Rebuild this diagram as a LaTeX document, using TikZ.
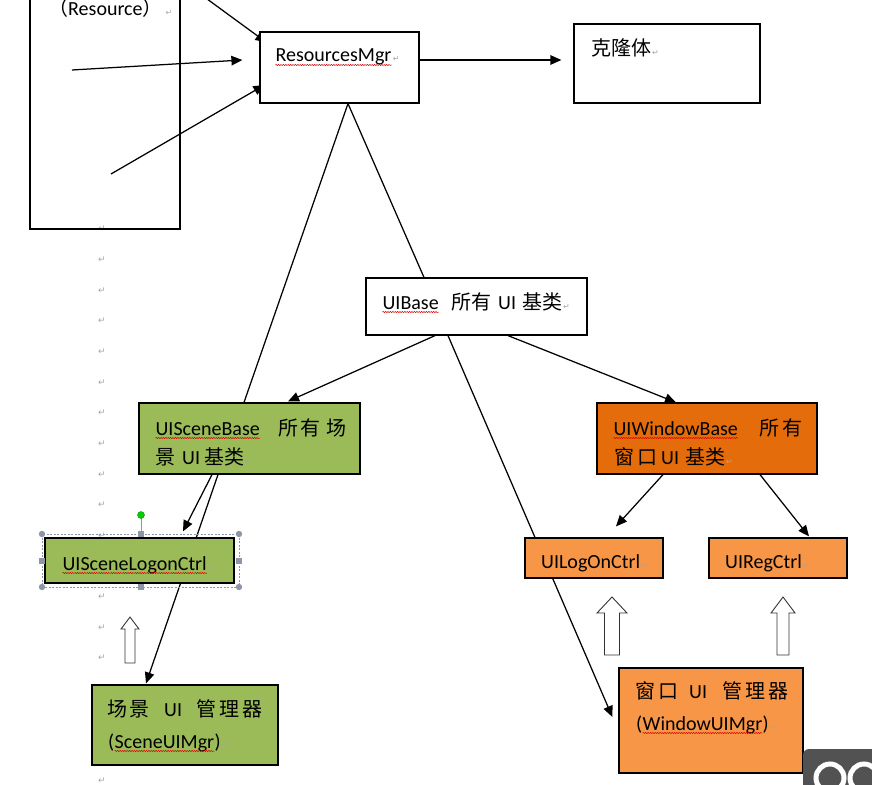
\documentclass[tikz,border=0pt]{standalone}
\usepackage{fontspec}
\setmainfont{Carlito}
\newfontfamily\cjk{Noto Sans CJK SC}
\newfontfamily\symf{DejaVu Sans}
\usetikzlibrary{arrows.meta, calc, decorations.pathmorphing}

\definecolor{scenegreen}{HTML}{9BBB59}
\definecolor{windark}{HTML}{E46C0A}
\definecolor{winlight}{HTML}{F79646}
\definecolor{handlegray}{HTML}{8C96A8}

\pgfdeclarelayer{bg}
\pgfsetlayers{bg,main}

% small grey paragraph mark after a text
\newcommand{\retmark}{{\symf\fontsize{8}{8}\selectfont\color{gray!70}\hspace{1pt}↵}}
% red wavy spell-check underline
\newcommand{\squig}[1]{\tikz[baseline=(w.base)]{\node[inner sep=0pt] (w) {#1};
  \draw[red!85!black, line width=0.5pt, decorate,
    decoration={snake, amplitude=0.6pt, segment length=2.4pt}]
    ([yshift=-3pt]w.base west) -- ([yshift=-3pt]w.base east);}}

\begin{document}
\begin{tikzpicture}[x=1pt, y=-1pt, line width=1.2pt,
  box/.style={draw, line width=1.2pt, inner sep=0pt},
  txt/.style={inner sep=0pt, anchor=base west, font=\fontsize{20}{24}\selectfont},
  link/.style={draw=black, line width=1.25pt},
  arr/.style={link, -{Triangle[length=11pt,width=9.5pt]}},
  pmark/.style={inner sep=0pt, font=\symf\fontsize{9}{9}\selectfont, text=gray!70},
  hollow/.style={draw=black!80, fill=white, line width=0.9pt}]
  \useasboundingbox (0,0) rectangle (872,784);

  % Boxes
  \node[box, minimum width=150pt, minimum height=259pt] (res) at (105,99.5) {};
  \node[box, fill=white, minimum width=159pt, minimum height=71pt] (rm) at (339.5,67.5) {};
  \node[box, fill=white, minimum width=186pt, minimum height=79pt] (cl) at (667,63.5) {};
  \node[box, fill=white, minimum width=221pt, minimum height=57pt] (uib) at (476.5,306.5) {};
  \node[box, fill=scenegreen, minimum width=221pt, minimum height=71pt] (usb) at (249.5,438.5) {};
  \node[box, fill=windark, minimum width=220pt, minimum height=71pt] (uwb) at (707,438.5) {};
  \node[box, fill=scenegreen, minimum width=189pt, minimum height=45pt] (uslc) at (139.5,560.5) {};
  \node[box, fill=winlight, minimum width=138pt, minimum height=40pt] (ulc) at (594,558) {};
  \node[box, fill=winlight, minimum width=138pt, minimum height=40pt] (urc) at (778,558) {};
  \node[box, fill=scenegreen, minimum width=186pt, minimum height=80pt] (sum) at (185,725) {};
  \node[box, fill=winlight, minimum width=184pt, minimum height=105pt] (wum) at (711,720.5) {};

  % Free ends inside the resource box
  \coordinate (s1) at (203,-4);
  \coordinate (s2) at (72,70);
  \coordinate (s3) at (111,174);
  \coordinate (apex) at ([shift={(8.5,0)}]rm.south);

  \begin{pgfonlayer}{bg}
    % Paragraph marks down the left margin
    \foreach \k in {0,...,10,12,13,14,18}
      \node[pmark] (pm\k) at (102,{229+30.65*\k}) {↵};

    % Connectors
    \draw[arr] (s1) -- ([shift={(7,11)}]rm.north west);
    \draw[arr] (s2) -- ([shift={(-17,-7.5)}]rm.west);
    \draw[arr] (s3) -- ([shift={(5,17.5)}]rm.west);
    \draw[arr] ([shift={(0,-7.5)}]rm.east) -- ([shift={(-12,-3.5)}]cl.west);
    \draw[link] (apex) -- ([shift={(-5.5,0)}]usb.north);
    \draw[link] (apex) -- ([shift={(-52.5,0)}]uib.north);
    \draw[arr] ([shift={(-41.5,0)}]uib.south) -- ([shift={(38.5,-1)}]usb.north);
    \draw[arr] ([shift={(-28.5,0)}]uib.south) -- ([shift={(-6,-3.5)}]wum.west);
    \draw[arr] ([shift={(31.5,0)}]uib.south) -- ([shift={(-31,0)}]uwb.north);
    \draw[arr] ([shift={(-44,0)}]uwb.south) -- ([shift={(22,-11)}]ulc.north);
    \draw[arr] ([shift={(53,0)}]uwb.south) -- ([shift={(31,-1)}]urc.north);
    \draw[arr] ([shift={(-37.5,0)}]usb.south) -- ([shift={(43.5,-6)}]uslc.north);
    \draw[arr] ([shift={(-31.5,0)}]usb.south) -- ([shift={(-39,-1)}]sum.north);
  \end{pgfonlayer}

  % Texts
  \node[txt] (restxt) at (48,16) {{\cjk （}Resource{\cjk ）}\hspace{2pt}\retmark};
  \node[txt] (rmtxt) at (275,62) {\squig{ResourcesMgr}\retmark};
  \node[txt] (cltxt) at (591,56) {{\cjk 克隆体}\retmark};
  \node[txt] (uibtxt) at (382,309) {\squig{UIBase}\hspace{12pt}{\cjk 所有}\hspace{7pt}UI\hspace{6pt}{\cjk 基类}\retmark};
  \node[txt] (usbtxta) at (155,435) {\squig{UISceneBase}\hspace{18pt}{\cjk 所}\hspace{2pt}{\cjk 有}\hspace{6pt}{\cjk 场}};
  \node[txt] (usbtxtb) at (155,464) {{\cjk 景}\hspace{7pt}UI\hspace{4pt}{\cjk 基类}\retmark};
  \node[txt] (uwbtxta) at (613,435) {\squig{UIWindowBase}\hspace{21pt}{\cjk 所}\hspace{3pt}{\cjk 有}};
  \node[txt] (uwbtxtb) at (614,464) {{\cjk 窗}\hspace{3pt}{\cjk 口}\hspace{4pt}UI\hspace{6pt}{\cjk 基类}\retmark};
  \node[txt] (uslctxt) at (62,570) {\squig{UISceneLogonCtrl}\retmark};
  \node[txt] (ulctxt) at (541,568) {UILogOnCtrl\retmark};
  \node[txt] (urctxt) at (725,568) {UIRegCtrl\retmark};
  \node[txt] (sumtxta) at (107,716) {{\cjk 场}\hspace{2pt}{\cjk 景}\hspace{15pt}UI\hspace{14pt}{\cjk 管}\hspace{3pt}{\cjk 理}\hspace{3pt}{\cjk 器}};
  \node[txt] (sumtxtb) at (108,748) {(\squig{SceneUIMgr})\retmark};
  \node[txt] (wumtxta) at (635,698) {{\cjk 窗}\hspace{3pt}{\cjk 口}\hspace{11pt}UI\hspace{15pt}{\cjk 管}\hspace{3pt}{\cjk 理}\hspace{3pt}{\cjk 器}};
  \node[txt] (wumtxtb) at (636,730) {(\squig{WindowUIMgr})\retmark};

  % Selection handles round the scene logon box
  \draw[handlegray, line width=0.6pt, dash pattern=on 2pt off 1.5pt] (42,534) rectangle (239,587);
  \draw[handlegray, line width=0.8pt] (141,515) -- (141,534);
  \foreach \hx/\hy in {42/534, 239/534, 42/587, 239/587}
    \fill[handlegray] (\hx,\hy) circle (3.2);
  \foreach \hx/\hy in {141/534, 141/587, 42/560.5, 239/560.5}
    \fill[handlegray] ({\hx-3},{\hy-3}) rectangle ({\hx+3},{\hy+3});
  \fill[green!80!black, draw=green!60!black, line width=0.4pt] (141,515) circle (3.5);

  % Hollow up arrows
  \foreach \cx/\ty/\hy/\by/\hw/\sw in {130/617/629/663/9/5, 612/597/613/655/15/7.5, 783/597/613/655/12/6}
    \draw[hollow] ({\cx-\sw},\by) -- ({\cx-\sw},\hy) -- ({\cx-\hw},\hy) -- (\cx,\ty)
      -- ({\cx+\hw},\hy) -- ({\cx+\sw},\hy) -- ({\cx+\sw},\by) -- cycle;

  % Player overlay in the corner
  \fill[black!68, rounded corners=6pt] (803,749) rectangle (900,810);
  \draw[white, line width=5pt] (830,778) circle (14);
  \draw[white, line width=5pt] (864,778) circle (14);
\end{tikzpicture}
\end{document}
